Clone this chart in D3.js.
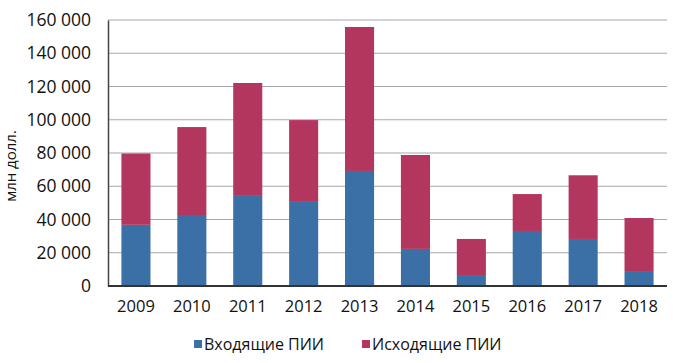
<!DOCTYPE html>
<html>
<head>
<meta charset="utf-8">
<script src="https://cdn.jsdelivr.net/npm/d3@7"></script>
<style>
  body { margin: 0; background: #fff; }
  #chart { width: 675px; height: 363px; }
  text { font-family: "Open Sans", "DejaVu Sans", sans-serif; fill: #111; }
</style>
</head>
<body>
<div id="chart"></div>
<script>
/* DATA: FDI, mln USD */
var years = ["2009","2010","2011","2012","2013","2014","2015","2016","2017","2018"];
var inbound = [36800, 42700, 54700, 51100, 69200, 22300, 6600, 33100, 28300, 9000];
var outbound = [42900, 52900, 67400, 48700, 86600, 56500, 21700, 22200, 38300, 31900];
var seriesNames = ["Входящие ПИИ", "Исходящие ПИИ"];
var yTicks = [0, 20000, 40000, 60000, 80000, 100000, 120000, 140000, 160000];

var colors = ["#3a70a6", "#b3365e"];

var width = 675, height = 363;
var margin = {top: 20, right: 8, bottom: 77, left: 108};

var svg = d3.select("#chart")
    .append("svg")
    .attr("width", width)
    .attr("height", height);

var rows = years.map(function(y, i) {
    return {year: y, inbound: inbound[i], outbound: outbound[i]};
});

var stack = d3.stack().keys(["inbound", "outbound"]);
var stacked = stack(rows);

var x = d3.scaleBand()
    .domain(years)
    .range([margin.left, width - margin.right])
    .paddingInner(0.48)
    .paddingOuter(0.24);

var y = d3.scaleLinear()
    .domain([0, 160000])
    .range([height - margin.bottom, margin.top]);

var fmt = function(d) { return d3.format(",")(d).replace(/,/g, " "); };

/* gridlines */
svg.append("g")
    .selectAll("line")
    .data(yTicks.filter(function(d) { return d > 0; }))
    .enter()
    .append("line")
        .attr("x1", margin.left)
        .attr("x2", width - margin.right)
        .attr("y1", function(d) { return y(d); })
        .attr("y2", function(d) { return y(d); })
        .attr("stroke", "#a8a8a8")
        .attr("stroke-width", 1.2);

/* bars */
svg.append("g")
    .selectAll("g")
    .data(stacked)
    .enter()
    .append("g")
        .attr("fill", function(d, i) { return colors[i]; })
    .selectAll("rect")
    .data(function(d) { return d; })
    .enter()
    .append("rect")
        .attr("x", function(d) { return x(d.data.year); })
        .attr("width", x.bandwidth())
        .attr("y", function(d) { return y(d[1]); })
        .attr("height", function(d) { return y(d[0]) - y(d[1]); });

/* y axis */
var yAxis = svg.append("g")
    .attr("transform", "translate(" + margin.left + ",0)")
    .call(d3.axisLeft(y).tickValues(yTicks).tickFormat(fmt).tickSize(0).tickPadding(17));
yAxis.select(".domain").attr("stroke", "#444").attr("stroke-width", 1.5);
yAxis.selectAll("text").style("font-size", "17.5px").attr("fill", "#111");

/* x axis */
var xAxis = svg.append("g")
    .attr("transform", "translate(0," + (height - margin.bottom) + ")")
    .call(d3.axisBottom(x).tickSize(0).tickPadding(14));
xAxis.select(".domain").remove();
xAxis.append("line")
    .attr("x1", margin.left)
    .attr("x2", width - margin.right)
    .attr("stroke", "#333")
    .attr("stroke-width", 2);
xAxis.selectAll("text").style("font-size", "16.5px").attr("fill", "#111");

/* y title */
svg.append("text")
    .attr("transform", "translate(16," + 166 + ") rotate(-90)")
    .attr("text-anchor", "middle")
    .style("font-size", "15px")
    .text("млн долл.");

/* legend */
var legendX = [194, 362];
var legend = svg.append("g")
    .selectAll("g")
    .data(seriesNames)
    .enter()
    .append("g")
        .attr("transform", function(d, i) { return "translate(" + legendX[i] + ",344)"; });
legend.append("rect")
    .attr("x", 0)
    .attr("y", -4)
    .attr("width", 8)
    .attr("height", 8)
    .attr("fill", function(d, i) { return colors[i]; });
legend.append("text")
    .attr("x", 10)
    .attr("y", 0)
    .attr("dy", "0.35em")
    .style("font-size", "16px")
    .text(function(d) { return d; });
</script>
</body>
</html>
